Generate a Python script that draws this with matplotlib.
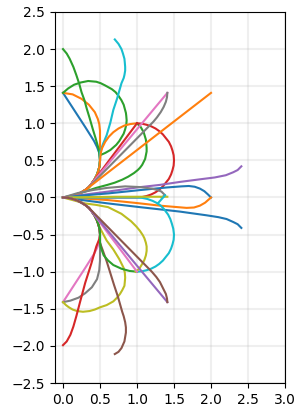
import matplotlib
matplotlib.use("Agg")
import matplotlib.pyplot as plt

# shared turning arcs leaving the origin
left_turn = [(0, 0), (0.07, 0.005), (0.13, 0.02), (0.19, 0.04), (0.25, 0.07), (0.30, 0.10),
             (0.35, 0.14), (0.39, 0.19), (0.43, 0.25), (0.46, 0.31), (0.48, 0.37), (0.495, 0.43), (0.5, 0.5)]
right_turn = [(0, 0), (0.07, -0.005), (0.13, -0.02), (0.19, -0.04), (0.25, -0.07), (0.30, -0.10),
              (0.35, -0.14), (0.39, -0.19), (0.43, -0.25), (0.46, -0.31), (0.48, -0.37), (0.495, -0.43), (0.5, -0.5)]

# upper half
blue_a = left_turn + [(0.49, 0.6), (0.46, 0.68), (0.42, 0.76), (0.3, 0.95), (0.15, 1.18), (0, 1.41)]
orange_a = left_turn + [(0.5, 0.7), (0.5, 0.9), (0.49, 0.99), (0.47, 1.06), (0.43, 1.15), (0.35, 1.25),
                        (0.25, 1.33), (0.13, 1.39), (0, 1.41)]
green_a = left_turn + [(0.5, 0.57), (0.57, 0.6), (0.64, 0.64), (0.72, 0.71), (0.76, 0.76), (0.79, 0.81),
                       (0.82, 0.86), (0.84, 0.92), (0.855, 0.98), (0.86, 1.04), (0.855, 1.1), (0.85, 1.14),
                       (0.82, 1.25), (0.79, 1.31), (0.75, 1.37), (0.71, 1.42), (0.66, 1.46), (0.57, 1.51),
                       (0.51, 1.54), (0.45, 1.56), (0.34, 1.57), (0.24, 1.55), (0.15, 1.52), (0.07, 1.47),
                       (0, 1.41)]
green_b = left_turn + [(0.49, 0.6), (0.48, 0.66), (0.44, 0.8), (0.4, 0.93), (0.36, 1.07), (0.32, 1.2),
                       (0.29, 1.31), (0.25, 1.42), (0.22, 1.53), (0.18, 1.65), (0.14, 1.76), (0.09, 1.87),
                       (0.05, 1.94), (0, 2.0)]
cyan_a = left_turn + [(0.5, 0.61), (0.54, 0.72), (0.59, 0.84), (0.64, 1.01), (0.68, 1.18), (0.73, 1.33),
                      (0.79, 1.54), (0.82, 1.61), (0.83, 1.65), (0.84, 1.71), (0.84, 1.76), (0.835, 1.82),
                      (0.83, 1.87), (0.81, 1.94), (0.79, 2.0), (0.75, 2.07), (0.7, 2.13)]
red_a = left_turn[:8] + [(1.0, 1.0)]
red_b = [(0, 0), (0.5, 0.0), (1.0, 0.0), (1.065, 0.005), (1.13, 0.02), (1.19, 0.04), (1.25, 0.07),
         (1.3, 0.105), (1.35, 0.15), (1.39, 0.2), (1.43, 0.25), (1.46, 0.31), (1.48, 0.37), (1.495, 0.43),
         (1.5, 0.5), (1.495, 0.57), (1.48, 0.63), (1.46, 0.69), (1.43, 0.75), (1.39, 0.8), (1.35, 0.85),
         (1.3, 0.895), (1.25, 0.93), (1.19, 0.96), (1.13, 0.98), (1.065, 0.995), (1.0, 1.0)]
orange_b = left_turn + [(0.505, 0.55), (0.51, 0.6), (0.53, 0.67), (0.55, 0.71), (0.57, 0.75), (0.62, 0.82),
                        (0.68, 0.88), (0.75, 0.93), (0.83, 0.97), (0.91, 0.99), (1.0, 1.0)]
green_c = [(0, 0), (0.15, 0.035), (0.3, 0.08), (0.45, 0.13), (0.6, 0.17), (0.7, 0.2), (0.8, 0.24),
           (0.88, 0.28), (0.96, 0.33), (1.01, 0.37), (1.04, 0.4), (1.07, 0.44), (1.09, 0.48), (1.11, 0.52),
           (1.12, 0.57), (1.13, 0.62), (1.13, 0.67), (1.125, 0.73), (1.12, 0.78), (1.105, 0.83),
           (1.09, 0.88), (1.05, 0.95), (1.0, 1.0)]
pink_a = left_turn[:8] + [(1.41, 1.41)]
gray_a = left_turn[:7] + [(1.22, 1.02), (1.27, 1.08), (1.32, 1.15), (1.36, 1.22), (1.39, 1.29),
                          (1.405, 1.35), (1.41, 1.41)]
orange_c = left_turn[:6] + [(2.0, 1.41)]
purple_a = [(0, 0), (0.3, 0.04), (0.61, 0.08), (1.0, 0.135), (1.31, 0.17), (1.58, 0.21), (1.85, 0.245),
            (2.05, 0.27), (2.2, 0.3), (2.3, 0.34), (2.36, 0.37), (2.41, 0.42)]
blue_b = [(0, 0), (0.3, 0.03), (0.61, 0.055), (1.04, 0.1), (1.4, 0.135), (1.6, 0.15), (1.7, 0.155),
          (1.78, 0.145), (1.85, 0.12), (1.91, 0.085), (1.96, 0.04), (2.0, 0.0)]
orange_d = [(0, 0), (0.3, -0.015), (0.61, -0.035), (1.0, -0.075), (1.31, -0.11), (1.55, -0.13),
            (1.67, -0.14), (1.77, -0.135), (1.85, -0.11), (1.92, -0.07), (2.0, 0.0)]
blue_c = [(0, 0), (0.3, -0.04), (0.61, -0.08), (1.04, -0.13), (1.58, -0.19), (1.94, -0.24), (2.1, -0.265),
          (2.21, -0.29), (2.3, -0.33), (2.36, -0.36), (2.41, -0.41)]
gray_b = [(0, 0), (0.2, 0.06), (0.4, 0.1), (0.6, 0.13), (0.84, 0.15), (1.05, 0.14), (1.2, 0.12),
          (1.28, 0.1), (1.33, 0.08), (1.38, 0.03), (1.33, 0.0)]
cyan_b = [(0, 0), (0.5, 0.0), (1.0, 0.0), (1.07, -0.005), (1.14, -0.02), (1.21, -0.045), (1.28, -0.08),
          (1.32, -0.11), (1.36, -0.15), (1.39, -0.19), (1.42, -0.23), (1.45, -0.29), (1.47, -0.35),
          (1.49, -0.42), (1.5, -0.5), (1.495, -0.57), (1.48, -0.63), (1.46, -0.69), (1.43, -0.75),
          (1.39, -0.8), (1.35, -0.85), (1.3, -0.895), (1.25, -0.93), (1.19, -0.96), (1.13, -0.98),
          (1.065, -0.995), (1.0, -1.0)]
cyan_spur = [(1.28, -0.08), (1.38, 0.03)]
olive_a = [(0, 0), (0.7, 0.01), (1.41, 0.01)]

# lower half
pink_b = right_turn + [(0.49, -0.6), (0.46, -0.68), (0.42, -0.76), (0.3, -0.95), (0.15, -1.18), (0, -1.41)]
gray_c = right_turn + [(0.5, -0.7), (0.5, -0.85), (0.49, -0.98), (0.46, -1.1), (0.39, -1.21), (0.3, -1.29),
                       (0.21, -1.35), (0.1, -1.39), (0, -1.41)]
olive_b = right_turn[:11] + [(0.52, -0.45), (0.59, -0.58), (0.68, -0.7), (0.76, -0.83), (0.79, -0.89),
                             (0.82, -0.95), (0.835, -1.01), (0.84, -1.08), (0.835, -1.14), (0.83, -1.19),
                             (0.8, -1.25), (0.77, -1.3), (0.73, -1.35), (0.68, -1.4), (0.59, -1.45),
                             (0.5, -1.48), (0.43, -1.51), (0.36, -1.53), (0.27, -1.54), (0.19, -1.53),
                             (0.13, -1.51), (0.08, -1.48), (0.04, -1.45), (0, -1.41)]
red_c = right_turn + [(0.49, -0.56), (0.45, -0.66), (0.38, -0.9), (0.3, -1.15), (0.23, -1.41), (0.18, -1.6),
                      (0.14, -1.74), (0.1, -1.85), (0.05, -1.94), (0, -1.99)]
brown_a = right_turn + [(0.5, -0.61), (0.54, -0.72), (0.59, -0.86), (0.64, -1.02), (0.69, -1.18),
                        (0.74, -1.33), (0.8, -1.54), (0.82, -1.6), (0.84, -1.68), (0.85, -1.75), (0.85, -1.82),
                        (0.84, -1.88), (0.83, -1.94), (0.79, -2.03), (0.75, -2.08), (0.7, -2.11)]
green_d = right_turn + [(0.5, -0.6), (0.51, -0.67), (0.55, -0.78), (0.61, -0.85), (0.68, -0.91),
                        (0.79, -0.96), (0.9, -0.99), (1.0, -1.0)]
olive_c = [(0, 0), (0.15, -0.04), (0.3, -0.08), (0.45, -0.1), (0.61, -0.13), (0.79, -0.22), (0.92, -0.32),
           (0.99, -0.39), (1.04, -0.45), (1.08, -0.51), (1.1, -0.55), (1.12, -0.61), (1.13, -0.66),
           (1.13, -0.72), (1.12, -0.78), (1.1, -0.84), (1.08, -0.88), (1.03, -0.96), (0.98, -1.0)]
pink_c = right_turn[:8] + [(1.0, -1.0)]
purple_b = right_turn[:8] + [(1.41, -1.41)]
brown_b = right_turn[:7] + [(1.2, -1.0), (1.26, -1.07), (1.31, -1.14), (1.35, -1.22), (1.39, -1.3),
                            (1.405, -1.36), (1.41, -1.41)]

paths = [
    (blue_a, "tab:blue"), (orange_a, "tab:orange"), (green_a, "tab:green"),
    (green_b, "tab:green"), (cyan_a, "tab:cyan"),
    (orange_b, "tab:orange"), (green_c, "tab:green"), (red_b, "tab:red"), (red_a, "tab:red"),
    (pink_a, "tab:pink"), (gray_a, "tab:gray"), (orange_c, "tab:orange"),
    (purple_a, "tab:purple"), (blue_b, "tab:blue"), (orange_d, "tab:orange"), (blue_c, "tab:blue"),
    (cyan_b, "tab:cyan"), (gray_b, "tab:gray"), (olive_a, "tab:olive"), (cyan_spur, "tab:cyan"),
    (pink_b, "tab:pink"), (gray_c, "tab:gray"), (olive_b, "tab:olive"),
    (red_c, "tab:red"), (brown_a, "tab:brown"),
    (green_d, "tab:green"), (olive_c, "tab:olive"), (pink_c, "tab:pink"),
    (purple_b, "tab:purple"), (brown_b, "tab:brown"),
]

fig = plt.figure(figsize=(2.98, 4.15), dpi=100)
ax = fig.add_axes([0.1846, 0.0771, 0.7718, 0.8940])
for pts, col in paths:
    xs = [p[0] for p in pts]
    ys = [p[1] for p in pts]
    ax.plot(xs, ys, color=col, linewidth=1.5)

ax.set_xlim(-0.108, 3.0)
ax.set_ylim(-2.5, 2.5)
ax.set_xticks([0.0, 0.5, 1.0, 1.5, 2.0, 2.5, 3.0])
ax.set_yticks([-2.5, -2.0, -1.5, -1.0, -0.5, 0.0, 0.5, 1.0, 1.5, 2.0, 2.5])
ax.grid(True, color="#b0b0b0", alpha=0.2, linewidth=1.5)
ax.set_axisbelow(True)

fig.savefig("out.png", dpi=100)
